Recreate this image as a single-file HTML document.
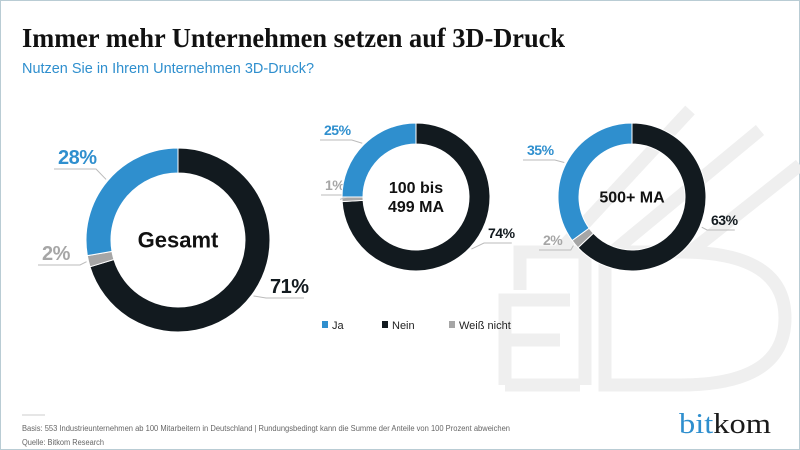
<!DOCTYPE html>
<html><head><meta charset="utf-8"><style>
html,body{margin:0;padding:0;background:#fff}
svg{display:block}
</style></head><body>
<svg width="800" height="450" viewBox="0 0 800 450" font-family="Liberation Sans, sans-serif">
<rect x="0.5" y="0.5" width="799" height="449" fill="#fff" stroke="#b9ccd4"/>
<g fill="none" stroke="#efefef" stroke-width="13">
<path d="M505 385 L505 300 L570 300 M505 340 L560 340 M505 385 L580 385"/>
<path d="M520 290 L520 252 L585 252 L585 385"/>
<path d="M605 385 L605 252 L680 252 Q785 252 785 318 Q785 385 680 385 Z"/>
<path d="M560 250 L690 110 M615 250 L760 130 M690 252 L800 165"/>
</g>
<text x="22" y="47" style="font-family:'Liberation Serif',serif;font-weight:bold;font-size:27px" fill="#111" textLength="543" lengthAdjust="spacingAndGlyphs">Immer mehr Unternehmen setzen auf 3D-Druck</text>
<text x="22" y="73" font-size="15" fill="#2f8fce" textLength="292" lengthAdjust="spacingAndGlyphs">Nutzen Sie in Ihrem Unternehmen 3D-Druck?</text>
<g id="donuts"></g>
<line x1="22" y1="415" x2="45" y2="415" stroke="#ccc"/>
<text x="22" y="431" font-size="8" fill="#666" textLength="488" lengthAdjust="spacingAndGlyphs">Basis: 553 Industrieunternehmen ab 100 Mitarbeitern in Deutschland | Rundungsbedingt kann die Summe der Anteile von 100 Prozent abweichen</text>
<text x="22" y="445" font-size="8" fill="#666" textLength="82" lengthAdjust="spacingAndGlyphs">Quelle: Bitkom Research</text>
<text x="679" y="433" style="font-family:'Liberation Serif',serif;font-size:29px" textLength="92" lengthAdjust="spacingAndGlyphs"><tspan fill="#2f8fce">bit</tspan><tspan fill="#1a1a1a">kom</tspan></text>
</svg>
<script>
const categories=["Nein","Weiß nicht","Ja"];
const gesamtValues=[71,2,28];
const midValues=[74,1,25];
const largeValues=[63,2,35];
const chartTitles=["Gesamt","100 bis|499 MA","500+ MA"];
const colors=["#121a1f","#a6a6a6","#2f8fce"];
const NS="http://www.w3.org/2000/svg";
const root=document.getElementById("donuts");
function el(t,a,p){const e=document.createElementNS(NS,t);for(const k in a)e.setAttribute(k,a[k]);(p||root).appendChild(e);return e;}
function pt(cx,cy,r,f){const a=f*2*Math.PI-Math.PI/2;return[cx+r*Math.cos(a),cy+r*Math.sin(a)];}
const specs=[
 {vals:gesamtValues,cx:178,cy:240,R:92,r:67,fs:20,cfs:22,labels:[[270,293],[42,260],[58,164]]},
 {vals:midValues,cx:416,cy:197,R:74,r:53,fs:14,cfs:16,labels:[[488,238],[325,190],[324,135]]},
 {vals:largeValues,cx:632,cy:197,R:74,r:53,fs:14,cfs:16,labels:[[711,225],[543,245],[527,155]]}
];
specs.forEach((s,i)=>{
 const g=el("g",{});
 
 
 const tot=s.vals.reduce((a,b)=>a+b,0);let acc=0;
 s.vals.forEach((v,j)=>{
  const f0=acc/tot,f1=(acc+v)/tot;acc+=v;
  const [x0,y0]=pt(s.cx,s.cy,s.R,f0),[x1,y1]=pt(s.cx,s.cy,s.R,f1),[x2,y2]=pt(s.cx,s.cy,s.r,f1),[x3,y3]=pt(s.cx,s.cy,s.r,f0);
  const lg=(f1-f0)>0.5?1:0;
  const p=el("path",{d:`M${x0} ${y0}A${s.R} ${s.R} 0 ${lg} 1 ${x1} ${y1}L${x2} ${y2}A${s.r} ${s.r} 0 ${lg} 0 ${x3} ${y3}Z`,fill:colors[j],stroke:"#fff","stroke-width":1},g);
  
  
  const fm=(f0+f1)/2;const [ex,ey]=pt(s.cx,s.cy,s.R+2,fm);
  const [lx,ly]=s.labels[j];const right=lx>s.cx;
  const w=s.fs*1.7;
  const yy=ly+5;
  const pts=right?`${ex},${ey} ${lx-4},${yy} ${lx+w},${yy}`:`${ex},${ey} ${lx+w+4},${yy} ${lx-4},${yy}`;
  const ln=el("polyline",{points:pts,fill:"none",stroke:"#bbb","stroke-width":1},g);
  
  
  const t=el("text",{x:lx,y:ly,"font-size":s.fs,"font-weight":"bold","letter-spacing":"-0.5",fill:colors[j]},g);
  t.textContent=s.vals[j]+"%";
  
  
 });
 const lines=chartTitles[i].split("|");
 lines.forEach((L,k)=>{
  const t=el("text",{x:s.cx,y:s.cy+s.cfs*0.35+(k-(lines.length-1)/2)*s.cfs*1.2,"font-size":s.cfs,"font-weight":"bold","text-anchor":"middle",fill:"#111"},g);
  t.textContent=L;
  
  
 });
});
const legX=[322,382,449];
categories.forEach((c,j)=>{
 const order=[2,0,1][j];
 const g=el("g",{});
 
 
 el("rect",{x:legX[j],y:321,width:6,height:7,fill:colors[order]},g);
 const t=el("text",{x:legX[j]+10,y:329,"font-size":11,fill:"#222"},g);
 t.textContent=categories[order];
 
 
});
</script>
</body></html>
